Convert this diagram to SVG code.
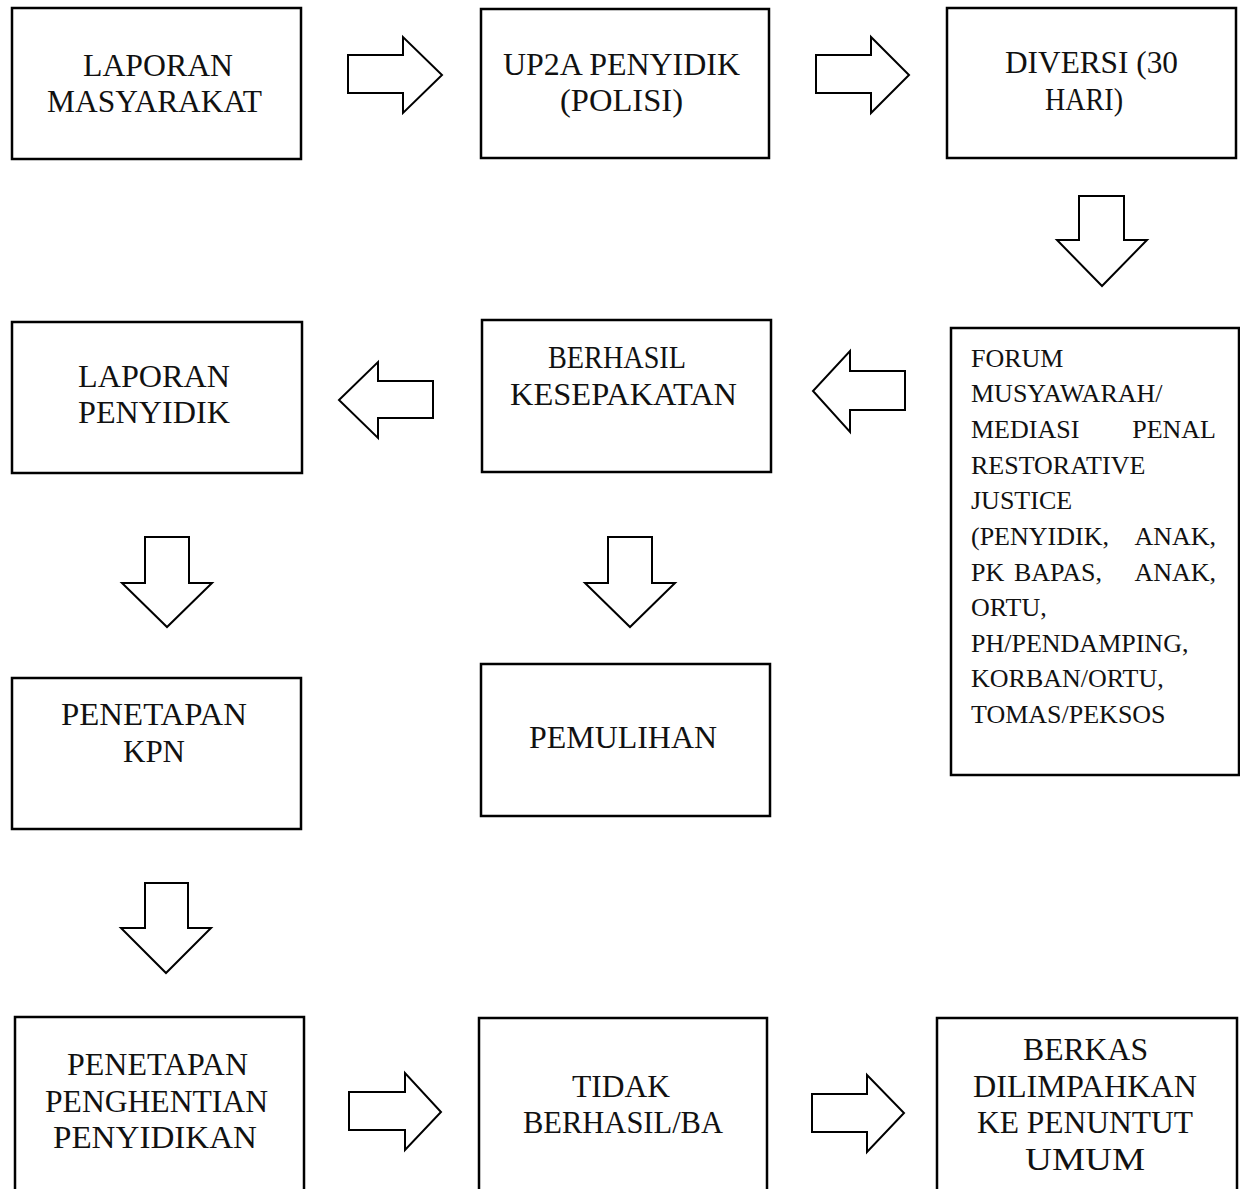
<svg xmlns="http://www.w3.org/2000/svg" width="1240" height="1189" viewBox="0 0 1240 1189">
<style>
.box{fill:#fff;stroke:#000;stroke-width:2.5}
.arr{fill:#fff;stroke:#000;stroke-width:2;stroke-linejoin:miter}
.t{font-family:'Liberation Serif','Times New Roman',serif;font-size:32px;fill:#111}
.f{font-family:'Liberation Serif','Times New Roman',serif;font-size:26px;fill:#111}
</style>
<rect width="1240" height="1189" fill="#fff"/>
<g id="connectors">
<polygon class="arr" points="348,55 403,55 403,37 442,75 403,113 403,93 348,93"/>
<polygon class="arr" points="816,55 871,55 871,37 909,75 871,113 871,93 816,93"/>
<polygon class="arr" points="1079,196 1124,196 1124,240 1147,240 1102,286 1057,240 1079,240"/>
<polygon class="arr" points="905,371 850,371 850,351 813,391 850,432 850,410 905,410"/>
<polygon class="arr" points="433,381 378,381 378,362 339,400 378,438 378,418 433,418"/>
<polygon class="arr" points="145,537 189,537 189,583 212,583 167,627 122,583 145,583"/>
<polygon class="arr" points="608,537 652,537 652,583 675,583 630,627 585,583 608,583"/>
<polygon class="arr" points="145,883 188,883 188,928 211,928 166,973 121,928 145,928"/>
<polygon class="arr" points="349,1092 405,1092 405,1073 441,1112 405,1150 405,1130 349,1130"/>
<polygon class="arr" points="812,1094 867,1094 867,1075 904,1113 867,1152 867,1132 812,1132"/>
</g>
<g id="n1"><rect class="box" x="12" y="8" width="289" height="151"/>
<text class="t" x="83" y="76" textLength="150" lengthAdjust="spacingAndGlyphs">LAPORAN</text>
<text class="t" x="47" y="112" textLength="215" lengthAdjust="spacingAndGlyphs">MASYARAKAT</text></g>
<g id="n2"><rect class="box" x="481" y="9" width="288" height="149"/>
<text class="t" x="503" y="75" textLength="237" lengthAdjust="spacingAndGlyphs">UP2A PENYIDIK</text>
<text class="t" x="560" y="111" textLength="123" lengthAdjust="spacingAndGlyphs">(POLISI)</text></g>
<g id="n3"><rect class="box" x="947" y="8" width="289" height="150"/>
<text class="t" x="1005" y="73" textLength="173" lengthAdjust="spacingAndGlyphs">DIVERSI (30</text>
<text class="t" x="1045" y="110" textLength="78" lengthAdjust="spacingAndGlyphs">HARI)</text></g>
<g id="n4"><rect class="box" x="951" y="328" width="288" height="447"/>
<text class="f" x="971" y="367">FORUM</text>
<text class="f" x="971" y="402">MUSYAWARAH/</text>
<text class="f" y="438"><tspan x="971">MEDIASI</tspan><tspan x="1216" text-anchor="end">PENAL</tspan></text>
<text class="f" x="971" y="474">RESTORATIVE</text>
<text class="f" x="971" y="509">JUSTICE</text>
<text class="f" y="545"><tspan x="971">(PENYIDIK,</tspan><tspan x="1216" text-anchor="end">ANAK,</tspan></text>
<text class="f" y="581"><tspan x="971">PK</tspan><tspan x="1014">BAPAS,</tspan><tspan x="1216" text-anchor="end">ANAK,</tspan></text>
<text class="f" x="971" y="616">ORTU,</text>
<text class="f" x="971" y="652">PH/PENDAMPING,</text>
<text class="f" x="971" y="687">KORBAN/ORTU,</text>
<text class="f" x="971" y="723">TOMAS/PEKSOS</text></g>
<g id="n5"><rect class="box" x="482" y="320" width="289" height="152"/>
<text class="t" x="548" y="368" textLength="138" lengthAdjust="spacingAndGlyphs">BERHASIL</text>
<text class="t" x="510" y="405" textLength="227" lengthAdjust="spacingAndGlyphs">KESEPAKATAN</text></g>
<g id="n6"><rect class="box" x="12" y="322" width="290" height="151"/>
<text class="t" x="78" y="387" textLength="152" lengthAdjust="spacingAndGlyphs">LAPORAN</text>
<text class="t" x="78" y="423" textLength="152" lengthAdjust="spacingAndGlyphs">PENYIDIK</text></g>
<g id="n7"><rect class="box" x="12" y="678" width="289" height="151"/>
<text class="t" x="61" y="725" textLength="186" lengthAdjust="spacingAndGlyphs">PENETAPAN</text>
<text class="t" x="123" y="762" textLength="62" lengthAdjust="spacingAndGlyphs">KPN</text></g>
<g id="n8"><rect class="box" x="481" y="664" width="289" height="152"/>
<text class="t" x="529" y="748" textLength="188" lengthAdjust="spacingAndGlyphs">PEMULIHAN</text></g>
<g id="n9"><rect class="box" x="15" y="1017" width="289" height="200"/>
<text class="t" x="67" y="1075" textLength="181" lengthAdjust="spacingAndGlyphs">PENETAPAN</text>
<text class="t" x="45" y="1112" textLength="223" lengthAdjust="spacingAndGlyphs">PENGHENTIAN</text>
<text class="t" x="53" y="1148" textLength="204" lengthAdjust="spacingAndGlyphs">PENYIDIKAN</text></g>
<g id="n10"><rect class="box" x="479" y="1018" width="288" height="200"/>
<text class="t" x="572" y="1097" textLength="98" lengthAdjust="spacingAndGlyphs">TIDAK</text>
<text class="t" x="523" y="1133" textLength="200" lengthAdjust="spacingAndGlyphs">BERHASIL/BA</text></g>
<g id="n11"><rect class="box" x="937" y="1018" width="300" height="200"/>
<text class="t" x="1023" y="1060" textLength="125" lengthAdjust="spacingAndGlyphs">BERKAS</text>
<text class="t" x="973" y="1097" textLength="224" lengthAdjust="spacingAndGlyphs">DILIMPAHKAN</text>
<text class="t" x="977" y="1133" textLength="216" lengthAdjust="spacingAndGlyphs">KE PENUNTUT</text>
<text class="t" x="1025" y="1170" textLength="120" lengthAdjust="spacingAndGlyphs">UMUM</text></g>
</svg>
